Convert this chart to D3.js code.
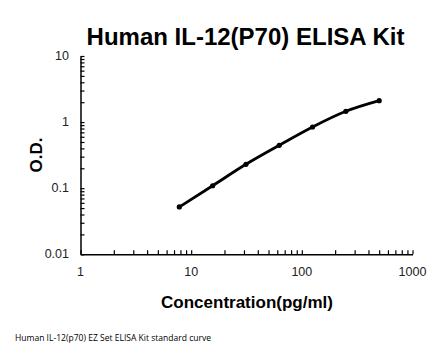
<!DOCTYPE html>
<html><head><meta charset="utf-8">
<script src="https://d3js.org/d3.v7.min.js"></script>
<style>body{margin:0;background:#fff}svg{display:block}</style>
</head><body>
<script>
const title = "Human IL-12(P70) ELISA Kit";
const xLabel = "Concentration(pg/ml)";
const yLabel = "O.D.";
const footnote = "Human IL-12(p70) EZ Set ELISA Kit standard curve";
const concentrations = [7.8125, 15.625, 31.25, 62.5, 125, 250, 500];
const odValues = [0.052, 0.109, 0.230, 0.446, 0.843, 1.456, 2.11];
const xTicks = [1, 10, 100, 1000];
const yTicks = [0.01, 0.1, 1, 10];

const W = 446, H = 356;
const svg = d3.select("body").append("svg").attr("width", W).attr("height", H);
const x = d3.scaleLog().domain([1, 1000]).range([80.5, 412.5]);
const y = d3.scaleLog().domain([0.01, 10]).range([254.3, 56]);

function minorTicks(lo, hi) {
  const t = [];
  for (let d = lo; d < hi; d *= 10) for (let k = 1; k <= 10; k++) t.push(d * k);
  return Array.from(new Set(t.map(v => +v.toPrecision(6))));
}

const xAxis = d3.axisBottom(x).tickValues(minorTicks(1, 1000)).tickSizeInner(-4).tickSizeOuter(0).tickFormat("");
const gx = svg.append("g").attr("transform", `translate(0,${y(0.01)})`).call(xAxis);
const yAxis = d3.axisLeft(y).tickValues(minorTicks(0.01, 10)).tickSizeInner(-4).tickSizeOuter(0).tickFormat("");
const gy = svg.append("g").attr("transform", `translate(${x(1)},0)`).call(yAxis);
[gx, gy].forEach(g => {
  g.select(".domain").attr("stroke", "#000").attr("stroke-width", 1.5);
  g.selectAll(".tick line").attr("stroke", "#000").attr("stroke-width", 1.2);
});

svg.append("g").selectAll("text").data(xTicks).join("text")
  .attr("x", d => x(d)).attr("y", 276).attr("text-anchor", "middle")
  .attr("font-family", "Liberation Sans, Arial, sans-serif").attr("font-size", 12.5).attr("fill", "#222")
  .text(d => d);
svg.append("g").selectAll("text").data(yTicks).join("text")
  .attr("x", 69).attr("y", d => y(d) + 4).attr("text-anchor", "end")
  .attr("font-family", "Liberation Sans, Arial, sans-serif").attr("font-size", 12.5).attr("fill", "#222")
  .text(d => d);

const pts = concentrations.map((c, i) => [c, odValues[i]]);
const line = d3.line().x(d => x(d[0])).y(d => y(d[1])).curve(d3.curveMonotoneX);
svg.append("path").datum(pts).attr("d", line).attr("fill", "none")
  .attr("stroke", "#000").attr("stroke-width", 2.8).attr("stroke-linecap", "round");
svg.append("g").selectAll("circle").data(pts).join("circle")
  .attr("cx", d => x(d[0])).attr("cy", d => y(d[1])).attr("r", 2.6).attr("fill", "#000");

svg.append("text").attr("x", 245.5).attr("y", 45).attr("text-anchor", "middle")
  .attr("font-family", "Liberation Sans, Arial, sans-serif").attr("font-weight", "bold")
  .attr("font-size", 24).attr("fill", "#000").text(title);
svg.append("text").attr("x", 247).attr("y", 308).attr("text-anchor", "middle")
  .attr("font-family", "Liberation Sans, Arial, sans-serif").attr("font-weight", "bold")
  .attr("font-size", 17).attr("fill", "#000").text(xLabel);
svg.append("text").attr("transform", "translate(42,155) rotate(-90)").attr("text-anchor", "middle")
  .attr("font-family", "Liberation Sans, Arial, sans-serif").attr("font-weight", "bold")
  .attr("font-size", 17).attr("fill", "#000").text(yLabel);
svg.append("text").attr("x", 15).attr("y", 341)
  .attr("font-family", "Open Sans, Liberation Sans, sans-serif")
  .attr("font-size", 8.5).attr("fill", "#000").attr("textLength", 196).attr("lengthAdjust", "spacingAndGlyphs")
  .text(footnote);
</script>
</body></html>
